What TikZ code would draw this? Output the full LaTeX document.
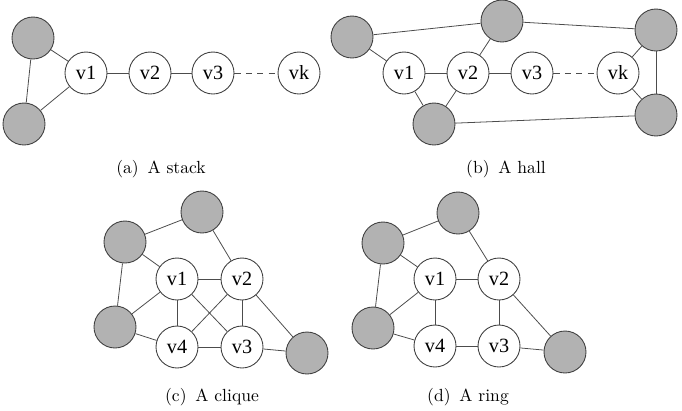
\documentclass[tikz,border=0pt]{standalone}
\usepackage{fontspec}
\newfontfamily\vfont{Liberation Serif}
\usetikzlibrary{positioning}

\begin{document}
\begin{tikzpicture}[
  x=0.02cm, y=-0.02cm,
  every node/.style={font=\normalsize},
  vtx/.style={draw=black!75, circle, fill=white, minimum size=0.84cm, inner sep=0pt, line width=0.5pt, font=\vfont\fontsize{11.5}{13}\selectfont},
  ext/.style={draw=black!75, circle, fill=black!30, minimum size=0.84cm, inner sep=0pt, line width=0.5pt},
  edge/.style={draw=black!70, line width=0.45pt},
  far/.style={edge, dash pattern=on 3.5pt off 3pt}
]
  \useasboundingbox (0,0) rectangle (682,410);

  % (a) stack
  \node[ext] (aT) at (33,38) {};
  \node[ext] (aB) at (24,124) {};
  \node[vtx] (a1) at (86,73) {v1};
  \node[vtx] (a2) at (150,73) {v2};
  \node[vtx] (a3) at (213,73) {v3};
  \node[vtx] (ak) at (299,73) {vk};
  \draw[edge] (aT) -- (a1);
  \draw[edge] (aT) -- (aB);
  \draw[edge] (aB) -- (a1);
  \draw[edge] (a1) -- (a2);
  \draw[edge] (a2) -- (a3);
  \draw[far] (a3) -- (ak);
  \node (capa) at (161,169) {(a)\enspace A stack};

  % (b) hall
  \node[ext] (bL) at (352,37) {};
  \node[ext] (bT) at (502,21) {};
  \node[ext] (bR) at (656,30) {};
  \node[ext] (bB) at (434,124) {};
  \node[ext] (bS) at (656,115) {};
  \node[vtx] (b1) at (404,73) {v1};
  \node[vtx] (b2) at (468,73) {v2};
  \node[vtx] (b3) at (532,73) {v3};
  \node[vtx] (bk) at (618,73) {vk};
  \draw[edge] (bL) -- (b1);
  \draw[edge] (bL) -- (bT);
  \draw[edge] (bT) -- (b2);
  \draw[edge] (bT) -- (bR);
  \draw[edge] (bR) -- (bk);
  \draw[edge] (bR) -- (bS);
  \draw[edge] (bk) -- (bS);
  \draw[edge] (bB) -- (b1);
  \draw[edge] (bB) -- (b2);
  \draw[edge] (bB) -- (bS);
  \draw[edge] (b1) -- (b2);
  \draw[edge] (b2) -- (b3);
  \draw[far] (b3) -- (bk);
  \node (capb) at (506,169) {(b)\enspace A hall};

  % (c) clique
  \node[ext] (cT) at (202,212) {};
  \node[ext] (cU) at (125,242) {};
  \node[ext] (cL) at (115,327) {};
  \node[ext] (cR) at (307,353) {};
  \node[vtx] (c1) at (177,279) {v1};
  \node[vtx] (c2) at (242,279) {v2};
  \node[vtx] (c3) at (242,347) {v3};
  \node[vtx] (c4) at (177,347) {v4};
  \draw[edge] (cT) -- (cU);
  \draw[edge] (cT) -- (c2);
  \draw[edge] (cU) -- (c1);
  \draw[edge] (cU) -- (cL);
  \draw[edge] (cL) -- (c1);
  \draw[edge] (cL) -- (c4);
  \draw[edge] (c2) -- (cR);
  \draw[edge] (c3) -- (cR);
  \draw[edge] (c1) -- (c2);
  \draw[edge] (c1) -- (c4);
  \draw[edge] (c1) -- (c3);
  \draw[edge] (c2) -- (c4);
  \draw[edge] (c2) -- (c3);
  \draw[edge] (c4) -- (c3);
  \node (capc) at (212,397) {(c)\enspace A clique};

  % (d) ring
  \node[ext] (dT) at (458,213) {};
  \node[ext] (dU) at (383,243) {};
  \node[ext] (dL) at (373,328) {};
  \node[ext] (dR) at (565,352) {};
  \node[vtx] (d1) at (435,279) {v1};
  \node[vtx] (d2) at (499,279) {v2};
  \node[vtx] (d3) at (499,346) {v3};
  \node[vtx] (d4) at (435,346) {v4};
  \draw[edge] (dT) -- (dU);
  \draw[edge] (dT) -- (d2);
  \draw[edge] (dU) -- (d1);
  \draw[edge] (dU) -- (dL);
  \draw[edge] (dL) -- (d1);
  \draw[edge] (dL) -- (d4);
  \draw[edge] (d2) -- (dR);
  \draw[edge] (d3) -- (dR);
  \draw[edge] (d1) -- (d2);
  \draw[edge] (d1) -- (d4);
  \draw[edge] (d2) -- (d3);
  \draw[edge] (d4) -- (d3);
  \node (capd) at (468,397) {(d)\enspace A ring};
\end{tikzpicture}
\end{document}
